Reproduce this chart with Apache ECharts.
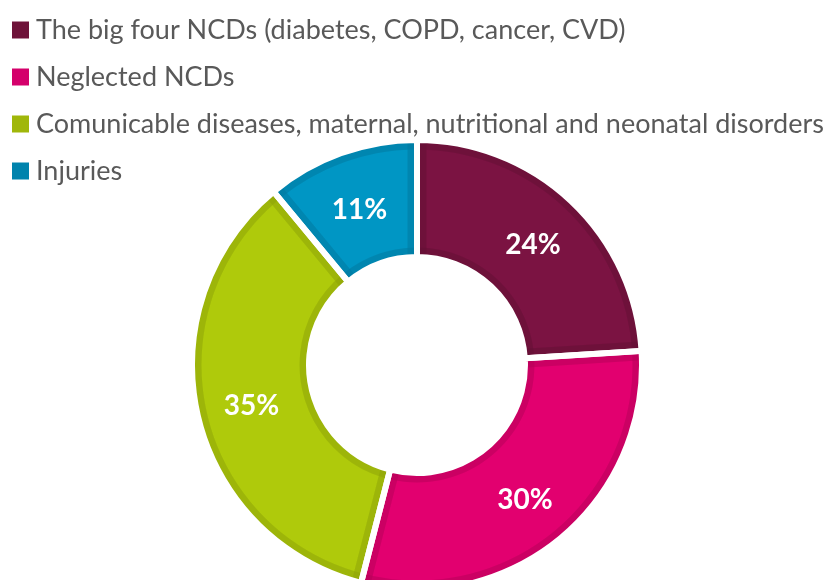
<!DOCTYPE html>
<html>
<head>
<meta charset="utf-8">
<script src="https://cdn.jsdelivr.net/npm/echarts@6/dist/echarts.min.js"></script>
<style>
    html, body { margin: 0; padding: 0; background: #ffffff; }
    #chart { width: 827px; height: 580px; }
</style>
</head>
<body>
<div id="chart"></div>
<script>
// chart data
const categories = [
    "The big four NCDs (diabetes, COPD, cancer, CVD)",
    "Neglected NCDs",
    "Comunicable diseases, maternal, nutritional and neonatal disorders",
    "Injuries"
];
const shares = [24, 30, 35, 11];

// colours: slice fill and legend swatch
const fillColors = ["#7b1342", "#e2006f", "#afca0b", "#0096c4"];
const iconColors = ["#6e1239", "#d4006b", "#a0b70a", "#0083ad"];

const center = [417, 365];
const rIn = 108, rOut = 225;
const halfGap = 3, band = 6.5;
const shade = "rgba(0,0,0,0.052)";

let chart = echarts.init(document.getElementById("chart"));

let sliceData = [];
let edgeData = [];
let legendData = [];
for (let i = 0; i < categories.length; i++) {
    sliceData.push({ name: categories[i], value: shares[i], itemStyle: { color: fillColors[i] } });
    edgeData.push({ name: categories[i], value: shares[i] });
    legendData.push({ name: categories[i], itemStyle: { color: iconColors[i], borderWidth: 0 } });
}

// plain ring used for the darker band along the arcs and for trimming
function ring(radius, color, z) {
    return {
        type: "pie",
        z: z,
        silent: true,
        center: center,
        radius: radius,
        emphasis: { disabled: true },
        itemStyle: { color: color, borderWidth: 0 },
        label: { show: false },
        labelLine: { show: false },
        data: [{ name: "", value: 1 }]
    };
}

// slice outlines drawn over the slices
function outline(width, color, z) {
    return {
        type: "pie",
        z: z,
        silent: true,
        center: center,
        radius: [rIn, rOut],
        startAngle: 90,
        clockwise: true,
        emphasis: { disabled: true },
        itemStyle: { color: "rgba(0,0,0,0)", borderColor: color, borderWidth: width, borderJoin: "miter" },
        label: { show: false },
        labelLine: { show: false },
        data: edgeData
    };
}

let option = {
    animation: false,
    legend: {
        orient: "vertical",
        left: 7,
        top: 10,
        itemWidth: 17,
        itemHeight: 17,
        itemGap: 17,
        icon: "rect",
        selectedMode: false,
        data: legendData,
        itemStyle: { borderWidth: 0 },
        textStyle: {
            fontFamily: "Lato",
            fontSize: 27,
            lineHeight: 30,
            color: "#595959",
            padding: [0, 0, 0, 2]
        }
    },
    series: [
        {
            type: "pie",
            z: 1,
            center: center,
            radius: [rIn, rOut],
            startAngle: 90,
            clockwise: true,
            avoidLabelOverlap: false,
            emphasis: { disabled: true },
            label: {
                show: true,
                position: "inside",
                formatter: "{c}%",
                offset: [0, 4],
                color: "#ffffff",
                fontFamily: "Lato",
                fontWeight: "bold",
                fontSize: 28
            },
            labelLine: { show: false },
            data: sliceData
        },
        outline(2 * (halfGap + band), shade, 2),
        ring([rOut - halfGap - band, rOut], shade, 2),
        ring([rIn, rIn + halfGap + band], shade, 2),
        outline(2 * halfGap, "#ffffff", 3),
        ring([rOut + halfGap - 1, rOut + halfGap + band + 4], "#ffffff", 3),
        ring([0, rIn - halfGap + 1], "#ffffff", 3)
    ]
};

chart.setOption(option);
window.addEventListener("resize", function () {
    chart.resize();
});
</script>
</body>
</html>
